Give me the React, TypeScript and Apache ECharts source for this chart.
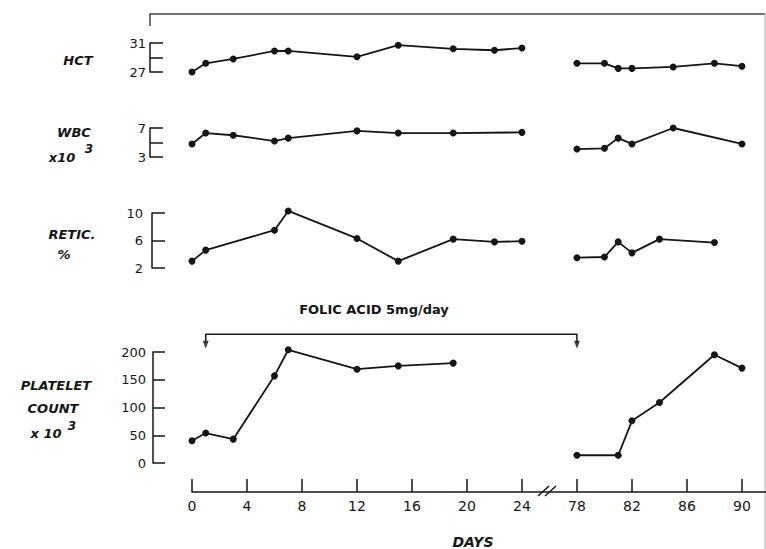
import { useEffect, useRef } from "react";
import * as echarts from "echarts";

// ---- Data (days on study) ----
const hctDaysA = [0, 1, 3, 6, 7, 12, 15, 19, 22, 24];
const hctA = [27.0, 28.2, 28.8, 29.9, 29.9, 29.1, 30.7, 30.2, 30.0, 30.3];
const hctDaysB = [78, 80, 81, 82, 85, 88, 90];
const hctB = [28.2, 28.2, 27.5, 27.5, 27.7, 28.2, 27.8];

const wbcDaysA = [0, 1, 3, 6, 7, 12, 15, 19, 24];
const wbcA = [4.8, 6.3, 6.0, 5.2, 5.6, 6.6, 6.3, 6.3, 6.4];
const wbcDaysB = [78, 80, 81, 82, 85, 90];
const wbcB = [4.1, 4.2, 5.6, 4.8, 7.0, 4.8];

const reticDaysA = [0, 1, 6, 7, 12, 15, 19, 22, 24];
const reticA = [3.0, 4.6, 7.5, 10.3, 6.3, 3.0, 6.2, 5.8, 5.9];
const reticDaysB = [78, 80, 81, 82, 84, 88];
const reticB = [3.5, 3.6, 5.8, 4.2, 6.2, 5.7];

const plateletDaysA = [0, 1, 3, 6, 7, 12, 15, 19];
const plateletA = [40, 54, 43, 157, 204, 169, 175, 180];
const plateletDaysB = [78, 81, 82, 84, 88, 90];
const plateletB = [14, 14, 76, 109, 195, 171];

// ---- Tick labels ----
const dayTickLabels = [0, 4, 8, 12, 16, 20, 24, 78, 82, 86, 90];
const hctTicks = [27, 29, 31];
const hctLabels = [27, 31];
const wbcTicks = [3, 5, 7];
const wbcLabels = [3, 7];
const reticTicks = [2, 6, 10];
const plateletTicks = [0, 50, 100, 150, 200];

// Folic acid treatment period
const folicStartDay = 1;
const folicEndDay = 78;

// Broken axis: days after 24 are shifted left by 50
const BREAK_AFTER = 24;
const BREAK_SHIFT = 50;
const toPos = (d: number) => (d > BREAK_AFTER ? d - BREAK_SHIFT : d);
const toDay = (p: number) => (p > BREAK_AFTER ? p + BREAK_SHIFT : p);
const pair = (days: number[], vals: number[]) => days.map((d, i) => [toPos(d), vals[i]]);

const INK = "#151515";
const FONT = "DejaVu Sans";
const X_MAX = 41.75;

export default function App() {
  const ref = useRef<HTMLDivElement>(null);

  useEffect(() => {
    if (!ref.current) return;
    const chart = echarts.init(ref.current, undefined, { renderer: "svg" });

    const grids = [
      { top: 43, height: 29 },
      { top: 128, height: 29 },
      { top: 213, height: 55 },
      { top: 352, height: 111 },
    ].map((g) => ({ left: 192, right: 0, ...g, outerBoundsMode: "none" }));

    const xAxes: any[] = grids.map((_, i) => ({
      type: "value",
      gridIndex: i,
      min: 0,
      max: X_MAX,
      show: false,
      splitLine: { show: false },
      axisLine: { onZero: false },
    }));
    const xTickPos = dayTickLabels.map(toPos);
    xAxes[3] = {
      type: "value",
      gridIndex: 3,
      min: 0,
      max: X_MAX,
      show: true,
      position: "bottom",
      offset: 29,
      splitLine: { show: false },
      axisLine: { show: true, onZero: false, lineStyle: { color: INK, width: 1.5 } },
      axisTick: {
        show: true,
        inside: true,
        length: 13,
        customValues: xTickPos,
        lineStyle: { color: INK, width: 1.5 },
      },
      axisLabel: {
        customValues: xTickPos,
        formatter: (v: number) => String(toDay(v)),
        margin: 7,
        fontSize: 14,
        fontFamily: FONT,
        color: INK,
      },
    };

    const yAxis = (
      gi: number,
      min: number,
      max: number,
      ticks: number[],
      labels: number[],
      offset: number,
      tickLen: number,
      margin: number
    ) => ({
      type: "value",
      gridIndex: gi,
      min,
      max,
      offset,
      splitLine: { show: false },
      axisLine: { show: true, onZero: false, lineStyle: { color: INK, width: 1.5 } },
      axisTick: {
        show: true,
        inside: true,
        length: tickLen,
        customValues: ticks,
        lineStyle: { color: INK, width: 1.5 },
      },
      axisLabel: {
        customValues: labels,
        margin,
        fontSize: 13,
        fontFamily: FONT,
        color: INK,
      },
    });

    const yAxes = [
      yAxis(0, 27, 31, hctTicks, hctLabels, 42, 13, 4),
      yAxis(1, 3, 7, wbcTicks, wbcLabels, 42, 13, 4),
      yAxis(2, 2, 10, reticTicks, reticTicks, 40, 13, 9),
      yAxis(3, 0, 200, plateletTicks, plateletTicks, 39, 12, 7),
    ];

    const lineSeries = (gi: number, data: number[][]) => ({
      type: "line",
      xAxisIndex: gi,
      yAxisIndex: gi,
      data,
      clip: false,
      symbol: "circle",
      symbolSize: 7,
      lineStyle: { color: INK, width: 1.8 },
      itemStyle: { color: INK },
    });

    const bracketLevel = 232;
    const arrowLevel = 213;

    const series: any[] = [
      lineSeries(0, pair(hctDaysA, hctA)),
      lineSeries(0, pair(hctDaysB, hctB)),
      lineSeries(1, pair(wbcDaysA, wbcA)),
      lineSeries(1, pair(wbcDaysB, wbcB)),
      lineSeries(2, pair(reticDaysA, reticA)),
      lineSeries(2, pair(reticDaysB, reticB)),
      lineSeries(3, pair(plateletDaysA, plateletA)),
      lineSeries(3, pair(plateletDaysB, plateletB)),
      {
        type: "line",
        xAxisIndex: 3,
        yAxisIndex: 3,
        clip: false,
        symbol: "none",
        lineStyle: { color: INK, width: 1.5 },
        data: [
          [toPos(folicStartDay), arrowLevel + 4],
          [toPos(folicStartDay), bracketLevel],
          [toPos(folicEndDay), bracketLevel],
          [toPos(folicEndDay), arrowLevel + 4],
        ],
      },
      {
        type: "scatter",
        xAxisIndex: 3,
        yAxisIndex: 3,
        clip: false,
        symbol: "triangle",
        symbolSize: [6, 8],
        symbolRotate: 180,
        itemStyle: { color: INK },
        data: [
          [toPos(folicStartDay), arrowLevel],
          [toPos(folicEndDay), arrowLevel],
        ],
      },
    ];

    const label = (text: string, x: number, y: number, size = 13, extra: any = {}) => ({
      type: "text",
      x,
      y,
      style: {
        text,
        fontSize: size,
        fontFamily: FONT,
        fontWeight: "bold",
        fontStyle: "italic",
        fill: INK,
        align: "center",
        verticalAlign: "middle",
        ...extra,
      },
    });

    const graphic: any[] = [
      {
        type: "polyline",
        shape: { points: [[150, 26], [150, 14], [765, 14]] },
        style: { stroke: "#444", lineWidth: 1.5, fill: "none" },
      },
      {
        type: "line",
        shape: { x1: 765, y1: 14, x2: 765, y2: 549 },
        style: { stroke: "#aaa", lineWidth: 1 },
      },
      // axis break marks
      {
        type: "line",
        shape: { x1: 538, y1: 496, x2: 549, y2: 486 },
        style: { stroke: INK, lineWidth: 1.5 },
      },
      {
        type: "line",
        shape: { x1: 545, y1: 496, x2: 556, y2: 486 },
        style: { stroke: INK, lineWidth: 1.5 },
      },
      label("HCT", 78, 60),
      label("WBC", 74, 132),
      label("x10", 62, 157),
      label("3", 89, 149, 12),
      label("RETIC.", 72, 234),
      label("%", 64, 254),
      label("PLATELET", 56, 385),
      label("COUNT", 53, 408),
      label("x 10", 46, 433),
      label("3", 72, 426, 12),
      label("FOLIC ACID 5mg/day", 374, 309, 13, { fontStyle: "normal" }),
      label("DAYS", 473, 542, 14),
    ];

    chart.setOption({
      animation: false,
      backgroundColor: "#fff",
      grid: grids,
      xAxis: xAxes,
      yAxis: yAxes,
      series,
      graphic,
    });

    return () => chart.dispose();
  }, []);

  return (
    <div
      ref={ref}
      style={{ position: "fixed", left: 0, top: 0, width: 766, height: 549, background: "#fff" }}
    />
  );
}
